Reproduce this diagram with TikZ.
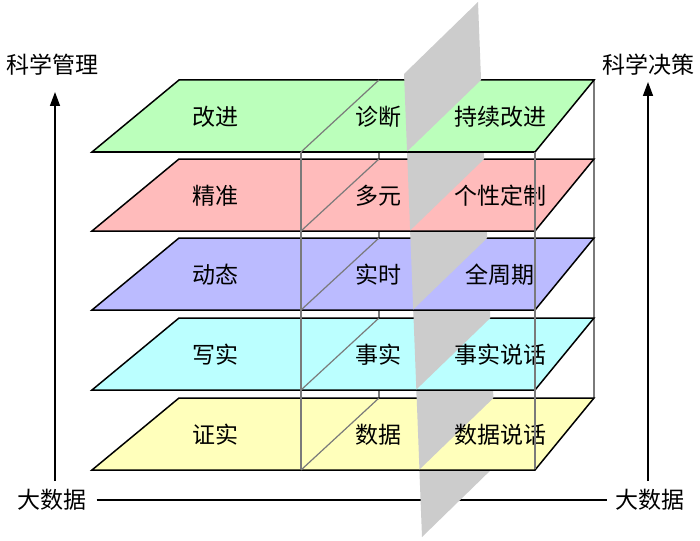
\documentclass[tikz,border=0pt]{standalone}
\usepackage{fontspec}
\setmainfont{Noto Sans CJK SC}
\usetikzlibrary{arrows.meta}
\definecolor{lgreen}{HTML}{BBFFBB}
\definecolor{lred}{HTML}{FFBBBB}
\definecolor{lblue}{HTML}{BBBBFF}
\definecolor{lcyan}{HTML}{BBFFFF}
\definecolor{lyellow}{HTML}{FFFFBB}
\definecolor{planegray}{HTML}{CCCCCC}
\definecolor{boxgray}{HTML}{7A7A7A}
\begin{document}
\begin{tikzpicture}[x=1pt,y=-1pt,
  layerbox/.style={draw=black,line width=1.5pt,line join=miter},
  boxline/.style={draw=boxgray,line width=1.2pt},
  lbl/.style={font=\fontsize{23}{23}\selectfont,inner sep=0pt},
  axisline/.style={draw=black,line width=1.2pt},
  axisarrow/.style={draw=black,line width=1.5pt,-{Triangle[length=14pt,width=10pt]}}]
\useasboundingbox[fill=white] (0,0) rectangle (700,540);
% axis texts
\node[lbl] (tl) at (52,65) {科学管理};
\node[lbl] (tr) at (648,65) {科学决策};
\node[lbl] (bl) at (52,500) {大数据};
\node[lbl] (br) at (650,500) {大数据};
\coordinate (la) at (55,481);
\coordinate (lt) at (55,92);
\coordinate (ra) at (648,481);
\coordinate (rt) at (648,82);
\draw[axisarrow] (la) -- (lt);
\draw[axisarrow] (ra) -- (rt);
\draw[axisline,shorten <=10pt,shorten >=8pt] (bl.east) -- (br.west);
% back box lines
\draw[boxline] (379,80) -- (379,398);
\draw[boxline] (594,80) -- (594,398);
% gray plane
\fill[planegray] (404,74) -- (478,2) -- (496,465) -- (422,537) -- cycle;
% layers
\foreach \T/\c/\a/\b/\d [count=\i] in {80/lgreen/改进/诊断/持续改进,159/lred/精准/多元/个性定制,238/lblue/动态/实时/全周期,318/lcyan/写实/事实/事实说话,398/lyellow/证实/数据/数据说话}{
  \pgfmathsetmacro\B{\T+72}
  \pgfmathsetmacro\xLT{404+0.039*(\T-74)}
  \pgfmathsetmacro\xRT{478+0.039*(\T-2)}
  \pgfmathsetmacro\xLB{404+0.039*(\B-74)}
  \filldraw[layerbox,fill=\c] (179,\T) -- (594,\T) -- (535,\B) -- (92,\B) -- cycle;
  \fill[planegray] (\xLT,\T-0.9) -- (\xRT,\T-0.9) -- (\xRT,\T) -- (\xLB,\B-0.5) -- cycle;
  \draw[boxline] (379,\T) -- (301,\B);
  \node[lbl] (L\i) at (215,\T+37) {\a};
  \node[lbl] (M\i) at (378,\T+37) {\b};
  \node[lbl] (R\i) at (500,\T+37) {\d};
}
% front box lines
\draw[boxline] (301,152) -- (301,469);
\draw[boxline] (535,152) -- (535,469);
\end{tikzpicture}
\end{document}
